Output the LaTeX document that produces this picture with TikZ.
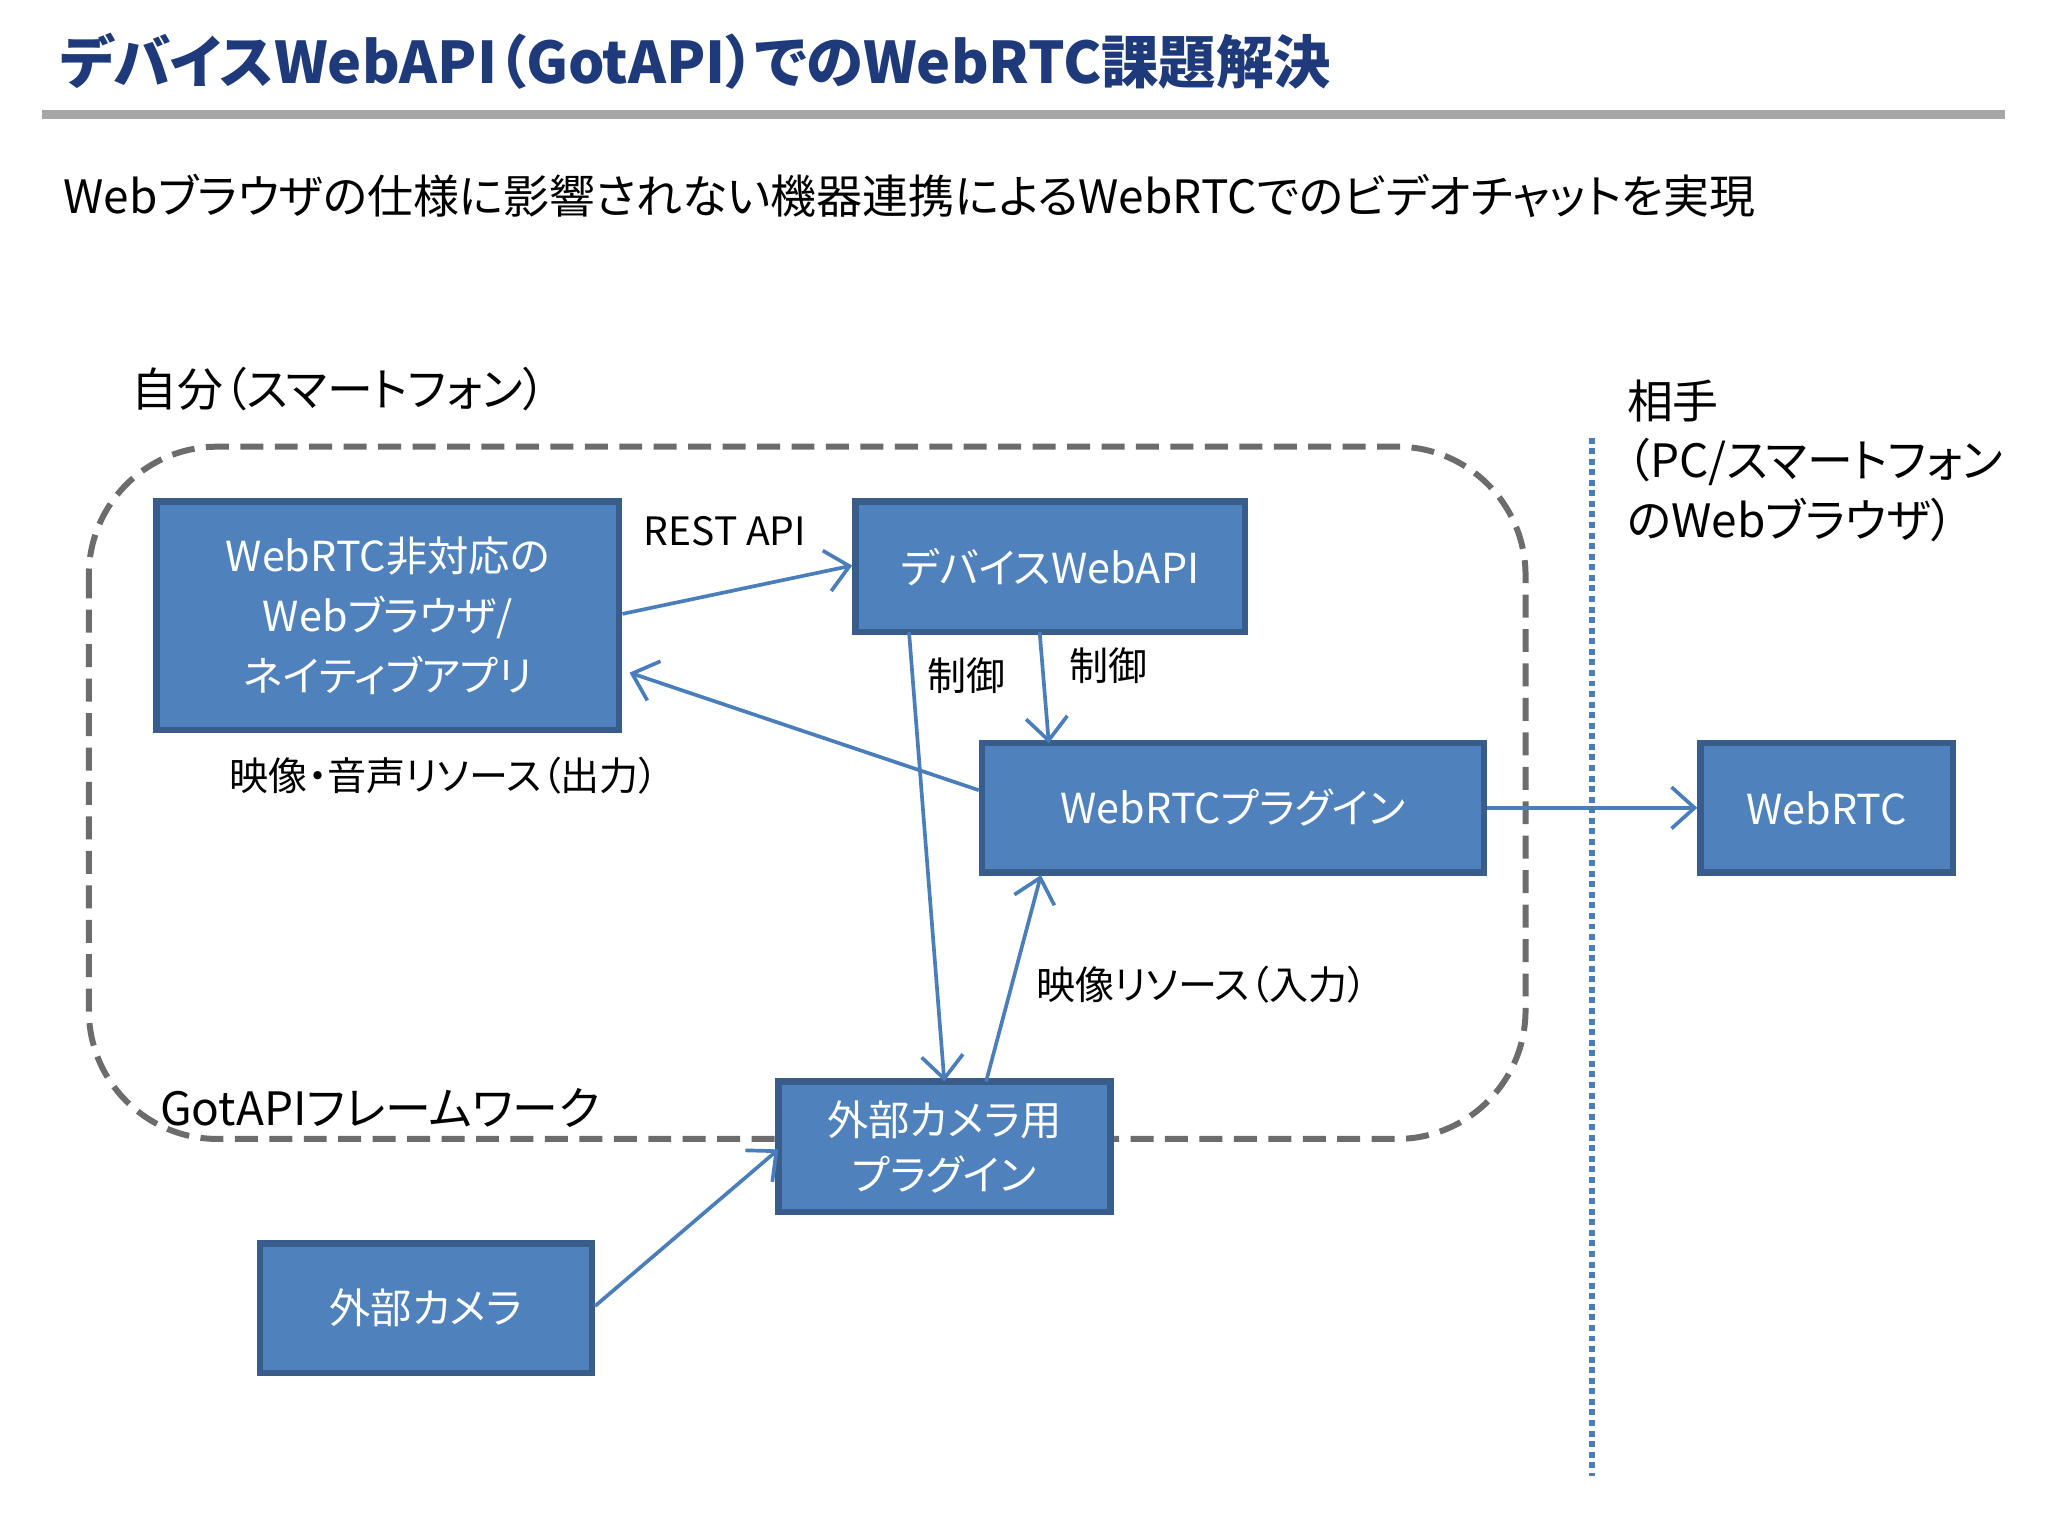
\documentclass[tikz,border=0pt]{standalone}
\usepackage{fontspec}
\setmainfont[RawFeature=+palt]{Noto Sans CJK JP}
\usetikzlibrary{arrows.meta}
\definecolor{boxfill}{HTML}{4F81BD}
\definecolor{boxline}{HTML}{385D8A}
\definecolor{titleblue}{HTML}{1F3A7A}
\definecolor{arr}{HTML}{4A7EBB}
\tikzset{
  bx/.style={draw=boxline,line width=1.4pt,fill=boxfill,text=white,inner sep=0pt,font=\fontsize{9}{13}\selectfont,align=center},
  ar/.style={draw=arr,line width=0.8pt,-{Straight Barb[length=5pt,width=9pt]}},
  lbl/.style={font=\fontsize{8.5}{11}\selectfont,inner sep=0pt}
}
\begin{document}
\begin{tikzpicture}[x=0.01cm,y=-0.01cm]
\useasboundingbox (0,0) rectangle (1568,1176);
\fill[white] (0,0) rectangle (1568,1176);
\node[anchor=west,text=titleblue,font=\fontsize{12.5}{14}\selectfont\bfseries,inner sep=0pt] (title) at (45,47) {デバイスWebAPI（GotAPI）でのWebRTC課題解決};
\fill[gray!70] (32,84) rectangle (1535,91);
\node[anchor=west,font=\fontsize{10}{12}\selectfont,inner sep=0pt] (sub) at (48,150) {Webブラウザの仕様に影響されない機器連携によるWebRTCでのビデオチャットを実現};
\node[anchor=west,font=\fontsize{10}{12}\selectfont,inner sep=0pt] (me) at (100,298) {自分（スマートフォン）};
\draw[gray!85!black,line width=1.3pt,dash pattern=on 5pt off 2.5pt,rounded corners=28pt] (68,342) rectangle (1168,872);
\draw[arr,densely dotted,line width=1.3pt] (1219,335) coordinate (v1) -- (1219,1130) coordinate (v2);
\node[anchor=north west,align=left,font=\fontsize{10}{13}\selectfont,inner sep=0pt] (peer) at (1245,290) {相手\\（PC/スマートフォン\\のWebブラウザ）};
\node[bx,minimum width=3.54cm,minimum height=1.75cm] (A) at (297,471.5) {WebRTC非対応の\\Webブラウザ/\\ネイティブアプリ};
\node[bx,minimum width=2.98cm,minimum height=1.0cm] (B) at (804,434) {デバイスWebAPI};
\node[bx,minimum width=3.84cm,minimum height=0.99cm] (C) at (944,618.5) {WebRTCプラグイン};
\node[bx,minimum width=1.93cm,minimum height=0.99cm] (D) at (1398.5,618.5) {WebRTC};
\node[bx,minimum width=2.54cm,minimum height=1.0cm,font=\fontsize{9}{12}\selectfont] (E) at (723,878) {外部カメラ用\\プラグイン};
\node[bx,minimum width=2.54cm,minimum height=0.99cm] (F) at (326,1001.5) {外部カメラ};
\draw[ar] (A.east |- 0,470) -- (B.west |- 0,433);
\draw[ar] (C.west |- 0,605) -- (482,515);
\draw[ar] (696,484) -- (723,828);
\draw[ar] (796,484) -- (803,569);
\draw[ar] (755,828) -- (797,670);
\draw[ar] (F.east |- 0,1000) -- (596,880);
\draw[ar] (C.east) -- (D.west);
\node[lbl] (l1) at (555,407) {REST API};
\node[lbl] (l2) at (740,517) {制御};
\node[lbl] (l3) at (849,510) {制御};
\node[lbl] (l4) at (340,594) {映像・音声リソース（出力）};
\node[lbl] (l5) at (920,754) {映像リソース（入力）};
\node[anchor=west,font=\fontsize{10}{12}\selectfont,inner sep=0pt] (l6) at (122,848) {GotAPIフレームワーク};
\end{tikzpicture}
\end{document}
